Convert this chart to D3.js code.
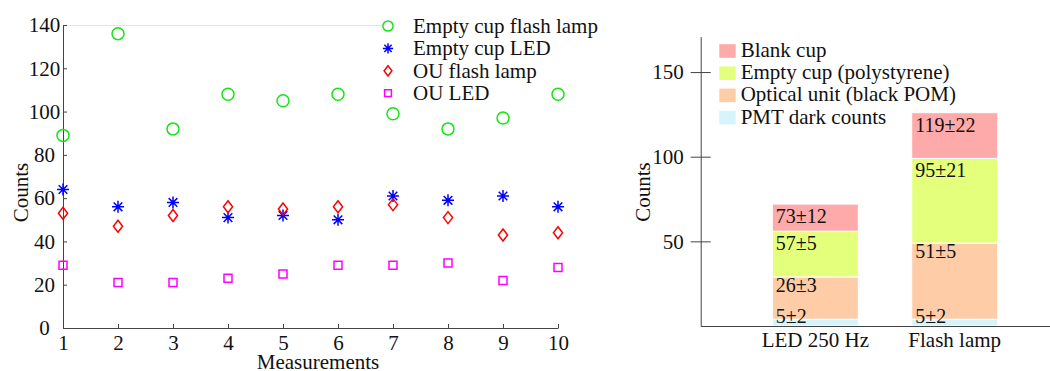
<!DOCTYPE html>
<html>
<head>
<meta charset="utf-8">
<script src="https://cdn.jsdelivr.net/npm/d3@7"></script>
<style>
    body { margin: 0; background: #fff; }
    text { font-family: "Liberation Serif", "Times New Roman", serif; fill: #111; }
    .axis path, .axis line { stroke: #444; }
</style>
</head>
<body>
<div id="chart"></div>
<script>
// ---- left panel: counts for each measurement ----
const measurements = [1, 2, 3, 4, 5, 6, 7, 8, 9, 10];
const emptyCupFlash = [89, 136, 92, 108, 105, 108, 99, 92, 97, 108];
const emptyCupLed = [64, 56, 58, 51, 52, 50, 61, 59, 61, 56];
const ouFlash = [53, 47, 52, 56, 55, 56, 57, 51, 43, 44];
const ouLed = [29, 21, 21, 23, 25, 29, 29, 30, 22, 28];
const scatterTicks = [0, 20, 40, 60, 80, 100, 120, 140];

// ---- right panel: stacked contributions per light source ----
const sources = ["LED 250 Hz", "Flash lamp"];
const pmtDark = [4, 4];
const opticalUnit = [25, 45];
const emptyCup = [27, 50];
const blankCup = [16, 27];
const pmtLabels = ["5±2", "5±2"];
const opticalLabels = ["26±3", "51±5"];
const emptyLabels = ["57±5", "95±21"];
const blankLabels = ["73±12", "119±22"];
const barTicks = [50, 100, 150];


// marker shapes, matlab style
function markerPath(type, k) {
    let p = d3.path();
    if (type === 'circle') {
        p.moveTo(6 * k, 0);
        p.arc(0, 0, 6 * k, 0, 2 * Math.PI);
    } else if (type === 'star') {
        let s = 6 * k, d = s * 0.72;
        p.moveTo(-s, 0); p.lineTo(s, 0);
        p.moveTo(0, -s); p.lineTo(0, s);
        p.moveTo(-d, -d); p.lineTo(d, d);
        p.moveTo(-d, d); p.lineTo(d, -d);
    } else if (type === 'diamond') {
        p.moveTo(0, -6 * k); p.lineTo(4.6 * k, 0); p.lineTo(0, 6 * k); p.lineTo(-4.6 * k, 0); p.closePath();
    } else {
        p.rect(-4 * k, -4 * k, 8 * k, 8 * k);
    }
    return p.toString();
}


class ScatterVis {

    constructor(svg, series) {
        this.svg = svg;
        this.series = series;
        this.initVis();
    }

    initVis() {
        let vis = this;

        vis.left = 63; vis.right = 558; vis.top = 25; vis.bottom = 328;

        vis.x = d3.scaleLinear().domain([1, 10]).range([vis.left, vis.right]);
        vis.y = d3.scaleLinear().domain([0, 140]).range([vis.bottom, vis.top]);

        // faint top edge of the box
        vis.svg.append('line')
            .attr('x1', vis.left).attr('x2', 381)
            .attr('y1', vis.top + 0.5).attr('y2', vis.top + 0.5)
            .attr('stroke', '#e4e4e4');

        vis.xAxis = d3.axisBottom(vis.x).tickValues(measurements)
            .tickSizeInner(-4).tickSizeOuter(0).tickPadding(7);
        vis.yAxis = d3.axisLeft(vis.y).tickValues(scatterTicks)
            .tickSizeInner(-4).tickSizeOuter(0);

        vis.svg.append('g')
            .attr('class', 'x-axis axis')
            .attr('transform', `translate(0, ${vis.bottom})`)
            .call(vis.xAxis)
            .selectAll('text').style('font-size', '21px');

        vis.svg.append('g')
            .attr('class', 'y-axis axis')
            .attr('transform', `translate(${vis.left}, 0)`)
            .call(vis.yAxis)
            .selectAll('text')
            .style('font-size', '21px')
            .attr('text-anchor', 'middle')
            .attr('x', -18.5);

        vis.svg.selectAll('.axis text').attr('fill', '#111');
        vis.svg.selectAll('.axis .domain').attr('stroke', '#444');

        // axis titles
        vis.svg.append('text')
            .attr('x', 318).attr('y', 369)
            .attr('text-anchor', 'middle')
            .style('font-size', '21px')
            .text('Measurements');

        vis.svg.append('text')
            .attr('transform', 'translate(28, 192.5) rotate(-90)')
            .attr('text-anchor', 'middle')
            .style('font-size', '21px')
            .text('Counts');

        // legend
        let legend = vis.svg.append('g').attr('class', 'legend');
        vis.series.forEach((s, i) => {
            let row = legend.append('g').attr('transform', `translate(388, ${26 + i * 22.4})`);
            row.append('path')
                .attr('d', markerPath(s.marker, 0.85))
                .attr('fill', 'none')
                .attr('stroke', s.color)
                .attr('stroke-width', 1.5);
            row.append('text')
                .attr('x', 25).attr('y', 7)
                .style('font-size', '21px')
                .text(s.name);
        });

        vis.updateVis();
    }

    updateVis() {
        let vis = this;

        vis.series.forEach(s => {
            vis.svg.append('g').selectAll('path')
                .data(s.values)
                .enter()
                .append('path')
                .attr('transform', (d, i) => `translate(${vis.x(measurements[i])}, ${vis.y(d)})`)
                .attr('d', markerPath(s.marker, 1))
                .attr('fill', 'none')
                .attr('stroke', s.color)
                .attr('stroke-width', 1.5);
        });
    }
}


class StackedBarVis {

    constructor(svg) {
        this.svg = svg;
        this.initVis();
    }

    initVis() {
        let vis = this;

        vis.left = 700.7; vis.bottom = 326;

        vis.x = d3.scaleBand()
            .domain(sources)
            .range([vis.left, 1050])
            .paddingInner(0.383)
            .paddingOuter(0.4445)
            .align(0.578);

        vis.y = d3.scaleLinear().domain([0, 171]).range([vis.bottom, 36.5]);

        vis.keys = ['pmt', 'optical', 'empty', 'blank'];
        vis.names = {
            blank: 'Blank cup',
            empty: 'Empty cup (polystyrene)',
            optical: 'Optical unit (black POM)',
            pmt: 'PMT dark counts'
        };
        vis.colors = {blank: '#ffaaaa', empty: '#e4ff7c', optical: '#ffcca8', pmt: '#d6f4fc'};
        vis.labels = {blank: blankLabels, empty: emptyLabels, optical: opticalLabels, pmt: pmtLabels};
        vis.labelOffset = {blank: 19, empty: 19, optical: 15};

        vis.wrangleData();
    }

    wrangleData() {
        let vis = this;

        vis.rows = sources.map((s, i) => ({
            source: s,
            pmt: pmtDark[i],
            optical: opticalUnit[i],
            empty: emptyCup[i],
            blank: blankCup[i]
        }));

        vis.stacked = d3.stack().keys(vis.keys)(vis.rows);

        vis.updateVis();
    }

    updateVis() {
        let vis = this;

        let layers = vis.svg.append('g').selectAll('g')
            .data(vis.stacked)
            .enter()
            .append('g')
            .attr('fill', d => vis.colors[d.key]);

        layers.selectAll('rect')
            .data(d => d)
            .enter()
            .append('rect')
            .attr('x', d => vis.x(d.data.source))
            .attr('y', d => vis.y(d[1]))
            .attr('height', d => vis.y(d[0]) - vis.y(d[1]))
            .attr('width', vis.x.bandwidth())
            .attr('stroke', '#fff')
            .attr('stroke-width', 1);

        // value labels inside each segment
        vis.stacked.forEach(layer => {
            vis.svg.append('g').selectAll('text')
                .data(layer)
                .enter()
                .append('text')
                .attr('x', d => vis.x(d.data.source) + 3.5)
                .attr('y', d => layer.key === 'pmt' ? vis.y(0) - 3.5 : vis.y(d[1]) + vis.labelOffset[layer.key])
                .style('font-size', '20px')
                .text((d, i) => vis.labels[layer.key][i]);
        });

        // axes
        vis.yAxis = d3.axisLeft(vis.y).tickValues(barTicks)
            .tickSizeInner(10).tickSizeOuter(0).tickPadding(7);

        let yg = vis.svg.append('g')
            .attr('class', 'y-axis axis')
            .attr('transform', `translate(${vis.left}, 0)`)
            .call(vis.yAxis);
        yg.selectAll('.tick line').attr('x1', -10).attr('x2', 10).attr('stroke', '#222');
        yg.selectAll('text').style('font-size', '21px').attr('fill', '#111');
        yg.select('.domain').attr('stroke', '#555');

        vis.xAxis = d3.axisBottom(vis.x).tickSize(0).tickPadding(5.6);
        let xg = vis.svg.append('g')
            .attr('class', 'x-axis axis')
            .attr('transform', `translate(0, ${vis.bottom})`)
            .call(vis.xAxis);
        xg.selectAll('text').style('font-size', '21px').attr('fill', '#111');
        xg.select('.domain').attr('stroke', '#555');

        vis.svg.append('text')
            .attr('transform', 'translate(650, 192) rotate(-90)')
            .attr('text-anchor', 'middle')
            .style('font-size', '21px')
            .text('Counts');

        // legend, top layer first
        let legendKeys = ['blank', 'empty', 'optical', 'pmt'];
        let legend = vis.svg.append('g').attr('class', 'legend');
        legendKeys.forEach((k, i) => {
            let row = legend.append('g').attr('transform', `translate(719.3, ${51 + i * 22.2})`);
            row.append('rect')
                .attr('x', 0).attr('y', -6.8)
                .attr('width', 16.4).attr('height', 13.6)
                .attr('fill', vis.colors[k]);
            row.append('text')
                .attr('x', 21.4).attr('y', 6)
                .style('font-size', '21px')
                .text(vis.names[k]);
        });
    }
}


let svg = d3.select('#chart').append('svg')
    .attr('width', 1050)
    .attr('height', 371);

let scatter = new ScatterVis(svg.append('g'), [
    {name: 'Empty cup flash lamp', values: emptyCupFlash, marker: 'circle', color: '#14e614'},
    {name: 'Empty cup LED', values: emptyCupLed, marker: 'star', color: '#0000ff'},
    {name: 'OU flash lamp', values: ouFlash, marker: 'diamond', color: '#ff0000'},
    {name: 'OU LED', values: ouLed, marker: 'square', color: '#ff00ff'}
]);

let bars = new StackedBarVis(svg.append('g'));
</script>
</body>
</html>
